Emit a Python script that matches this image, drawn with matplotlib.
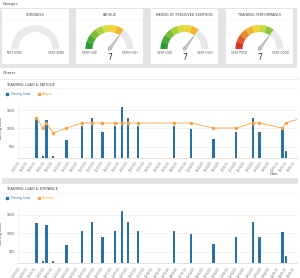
import numpy as np
import matplotlib
matplotlib.use("Agg")
import matplotlib.pyplot as plt
import matplotlib.dates as mdates
from matplotlib.patches import Rectangle, Wedge, Polygon, Circle
from matplotlib.lines import Line2D
from datetime import datetime, timedelta

W, H = 300, 278

# gauges
gauge_titles = ["SORENESS", "FATIGUE", "RATING OF PERCEIVED EXERTION", "TRAINING PERFORMANCE"]
gauge_low = ["NOT SORE", "VERY LOW", "VERY LOW", "VERY POOR"]
gauge_high = ["VERY SORE", "VERY HIGH", "VERY HIGH", "VERY GOOD"]
gauge_values = [None, 7, 7, 7]
gauge_max = 10
green_to_orange = ["#2a9a34", "#4aab32", "#7cbf36", "#aacf3c", "#d8df3e", "#f3d43a", "#f3b42e"]
red_to_green = ["#d9342b", "#e05c2b", "#e88a2e", "#efb835", "#f0d63c", "#c6d840", "#8fc63e"]
gauge_bands = [None, green_to_orange, green_to_orange, red_to_green]

# charts
start = datetime(2019, 3, 1)
n_days = 66.8
session_days = [4.4, 6.0, 6.8, 8.4, 11.6, 15.4, 17.8, 20.2, 23.3, 24.9,
                26.4, 28.8, 37.4, 41.4, 46.8, 52.2, 56.2, 57.8, 63.3, 64.1]
training_load = [1275, 240, 1230, 240, 680, 1065, 1290, 890, 1065, 1590,
                 1290, 1065, 1065, 975, 700, 890, 1290, 890, 1025, 390]
fatigue_days = session_days + [68.0]
fatigue = [8, 6, 7, 5, 6, 7, 7, 7, 7, 7, 7, 7, 7, 7, 6, 6, 7, 7, 6, 7, 8]

BLUE = "#2b71a8"
ORANGE = "#f0a347"
GRAY_BG = "#e4e4e4"


def py(y):
    # pixel row (from top) -> background axes y
    return H - y


fig = plt.figure(figsize=(W / 100, H / 100), dpi=100)
fig.patch.set_facecolor("white")
bg = fig.add_axes([0, 0, 1, 1])
bg.set_xlim(0, W)
bg.set_ylim(0, H)
bg.axis("off")

# gauges section
bg.text(3, py(4.5), "Gauges", fontsize=3, color="#444", va="center")
bg.add_patch(Rectangle((0, py(67.5)), 297, 59.5, fc=GRAY_BG, ec="none"))
panels = [(1.7, 69), (76, 143), (151, 218), (226, 293)]
for i, (x0, x1) in enumerate(panels):
    bg.add_patch(Rectangle((x0, py(64.3)), x1 - x0, 55, fc="white", ec="none"))
    cx, cy = (x0 + x1) / 2, py(49)
    bg.text(cx, py(14.7), gauge_titles[i], fontsize=2.4, color="#444", ha="center", va="center")
    bg.plot([x0 + 2, x1 - 2], [py(19.5), py(19.5)], color="#eeeeee", lw=0.4)
    r_out, r_in = 24, 17
    bg.add_patch(Wedge((cx, cy), r_out, 0, 180, width=r_out - r_in, fc="#e9e9e9", ec="none"))
    v = gauge_values[i]
    if v is not None:
        for k, col in enumerate(gauge_bands[i][:v]):
            a1 = 180 - 180 * k / gauge_max
            a0 = 180 - 180 * (k + 1) / gauge_max
            bg.add_patch(Wedge((cx, cy), r_out, a0, a1, width=r_out - r_in, fc=col, ec="none"))
        ang = np.deg2rad(180 - 180 * v / gauge_max)
        tip = (cx + 17 * np.cos(ang), cy + 17 * np.sin(ang))
        dx, dy = -np.sin(ang) * 1.4, np.cos(ang) * 1.4
        bg.add_patch(Polygon([(cx + dx, cy + dy), tip, (cx - dx, cy - dy)],
                             fc="#d0d0d0", ec="#8a8a8a", lw=0.3))
        bg.add_patch(Circle((cx, cy), 1.4, fc="#d0d0d0", ec="#8a8a8a", lw=0.3))
        bg.text(cx, py(57.5), str(v), fontsize=5.5, color="#333", ha="center", va="center")
    bg.text(cx - 20.5, py(52.5), gauge_low[i], fontsize=2.1, color="#555", ha="center", va="center")
    bg.text(cx + 20.5, py(52.5), gauge_high[i], fontsize=2.1, color="#555", ha="center", va="center")

# charts section
bg.text(3, py(73.3), "Charts", fontsize=3, color="#444", va="center")
bg.plot([1, 298], [py(79.3), py(79.3)], color="#dddddd", lw=0.4)
bg.add_patch(Rectangle((2, py(184.3)), 296, 6.3, fc=GRAY_BG, ec="none"))

charts = [("TRAINING LOAD & FATIGUE", "Fatigue", 84.7, 100, 158, True),
          ("TRAINING LOAD & DISTANCE", "Distance", 189, 204.3, 263.3, False)]

ticks = [start + timedelta(days=d) for d in range(0, 68, 2)]
dates = [start + timedelta(days=d) for d in session_days]
fdates = [start + timedelta(days=d) for d in fatigue_days]

for title, second, ty, top, bottom, show_line in charts:
    bg.text(6, py(ty), title, fontsize=2.6, color="#444", va="center")
    bg.plot([3, 298], [py(ty + 3.6), py(ty + 3.6)], color="#eeeeee", lw=0.4)
    ax = fig.add_axes([18 / W, (H - bottom) / H, 279 / W, (bottom - top) / H])
    ax.bar(dates, training_load, width=0.55, color=BLUE, zorder=3)
    ax.set_xlim(start, start + timedelta(days=n_days))
    ax.set_ylim(190, 1780)
    ax.set_yticks([500, 1000, 1500])
    ax.grid(axis="y", color="#e8e8e8", lw=0.4, zorder=0)
    ax.set_xticks(ticks)
    ax.xaxis.set_major_formatter(mdates.DateFormatter("%d/%m/%y"))
    ax.tick_params(axis="x", labelsize=2.0, labelcolor="#777", length=1, width=0.3,
                   color="#cccccc", pad=1)
    for lab in ax.get_xticklabels():
        lab.set_rotation(55)
        lab.set_ha("right")
        lab.set_rotation_mode("anchor")
    ax.tick_params(axis="y", labelsize=2.3, labelcolor="#555", length=0, pad=2)
    ax.set_ylabel("Training Load", fontsize=2.5, color="#444", labelpad=3)
    for s in ["top", "right"]:
        ax.spines[s].set_visible(False)
    ax.spines["left"].set_color("#e8e8e8")
    ax.spines["bottom"].set_color("#cccccc")
    ax.spines["left"].set_linewidth(0.4)
    ax.spines["bottom"].set_linewidth(0.4)
    if show_line:
        ax2 = ax.twinx()
        ax2.plot(fdates, fatigue, color=ORANGE, lw=0.6, marker="o", ms=1.5, zorder=4)
        ax2.set_ylim(0, 11.6)
        ax2.set_xlim(start, start + timedelta(days=n_days))
        ax2.axis("off")
        bg.text(270, py(174), "Date", fontsize=2.5, color="#444", va="center")
    handles = [Line2D([], [], ls="none", marker="s", ms=1.6, color=BLUE),
               Line2D([], [], ls="none", marker="s", ms=1.6, color=ORANGE)]
    fig.legend(handles, ["Training Load", second], loc="center left",
               bbox_to_anchor=(3 / W, (H - (ty + 9)) / H), frameon=False, fontsize=2.2,
               ncol=2, handlelength=0.8, handletextpad=0.5, columnspacing=2.5,
               labelcolor=[BLUE, ORANGE])

fig.savefig("out.png", dpi=100)
